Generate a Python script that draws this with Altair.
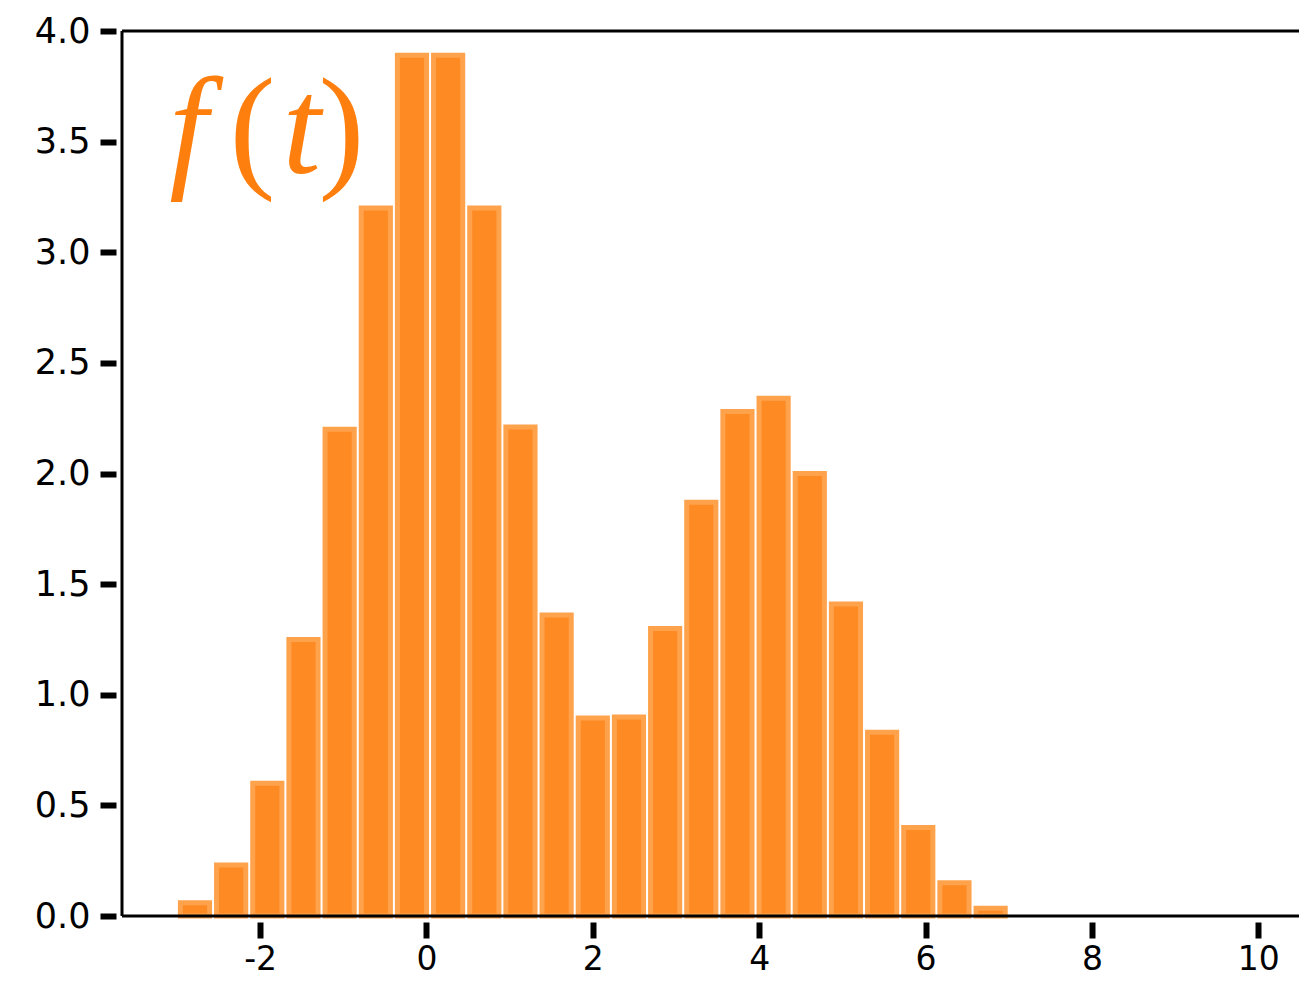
import altair as alt
import pandas as pd

# histogram: 23 bins from -3 to 7
bin_start = -3.0
bin_end = 7.0
heights = [0.06, 0.23, 0.60, 1.25, 2.20, 3.20, 3.89, 3.89, 3.20, 2.21, 1.36, 0.895,
           0.90, 1.30, 1.87, 2.28, 2.34, 2.00, 1.41, 0.83, 0.40, 0.15, 0.035]
n = len(heights)
w = (bin_end - bin_start) / n
df = pd.DataFrame({
    "x0": [bin_start + i * w for i in range(n)],
    "x1": [bin_start + (i + 1) * w for i in range(n)],
    "h": heights,
})

# annotation f(t)
label_chars = ["f", "(", "t", ")"]
label_x = [-2.86, -2.09, -1.50, -1.02]
label_style = ["italic", "normal", "italic", "normal"]
label_y = 3.36
lab = pd.DataFrame({"c": label_chars, "x": label_x, "s": label_style, "y": [label_y] * 4})

x_ticks = [-2, 0, 2, 4, 6, 8, 10]
y_ticks = [0.0, 0.5, 1.0, 1.5, 2.0, 2.5, 3.0, 3.5, 4.0]
x_min, x_max = -3.66, 10.49
y_min, y_max = 0.0, 4.0

xscale = alt.Scale(domain=[x_min, x_max], nice=False, zero=False)
yscale = alt.Scale(domain=[y_min, y_max], nice=False)

xaxis = alt.Axis(values=x_ticks, labelExpr="datum.value", domain=False, grid=False,
                 offset=6, tickSize=16, tickWidth=6, tickColor="black",
                 labelFontSize=33, labelFont="DejaVu Sans", labelColor="black",
                 labelPadding=5, title=None)
yaxis = alt.Axis(values=y_ticks, format=".1f", domain=False, grid=False,
                 offset=6, tickSize=16, tickWidth=6, tickColor="black",
                 labelFontSize=35, labelFont="DejaVu Sans", labelColor="black",
                 labelPadding=10, title=None)

bars = alt.Chart(df).mark_rect(
    fill="#fe8a24", stroke="#ffa24c", strokeWidth=5, xOffset=3.5, x2Offset=-3.5
).encode(
    x=alt.X("x0:Q", scale=xscale, axis=xaxis),
    x2="x1:Q",
    y=alt.Y("h:Q", scale=yscale, axis=yaxis),
    y2=alt.datum(0),
)

frame_h = alt.Chart(pd.DataFrame({"y": [y_min, y_max]})).mark_rule(
    color="black", strokeWidth=3
).encode(y=alt.Y("y:Q", scale=yscale))

frame_v = alt.Chart(pd.DataFrame({"x": [x_min]})).mark_rule(
    color="black", strokeWidth=3
).encode(x=alt.X("x:Q", scale=xscale))

text_it = alt.Chart(lab).transform_filter("datum.s == 'italic'").mark_text(
    font="Liberation Serif", fontSize=138, fontStyle="italic", color="#ff7f0e",
    align="center", baseline="alphabetic"
).encode(x=alt.X("x:Q", scale=xscale), y=alt.Y("y:Q", scale=yscale), text="c:N")

text_n = alt.Chart(lab).transform_filter("datum.s == 'normal'").mark_text(
    font="Liberation Serif", fontSize=138, color="#ff7f0e",
    align="center", baseline="alphabetic"
).encode(x=alt.X("x:Q", scale=xscale), y=alt.Y("y:Q", scale=yscale), text="c:N")

chart = alt.layer(bars, frame_h, frame_v, text_it, text_n).properties(
    width=1177, height=885,
    autosize=alt.AutoSizeParams(type="none"),
    padding={"left": 114, "top": 23, "right": 0, "bottom": 60},
).configure_view(stroke=None)

chart.save("out.html", embed_options={"renderer": "svg", "actions": False})
